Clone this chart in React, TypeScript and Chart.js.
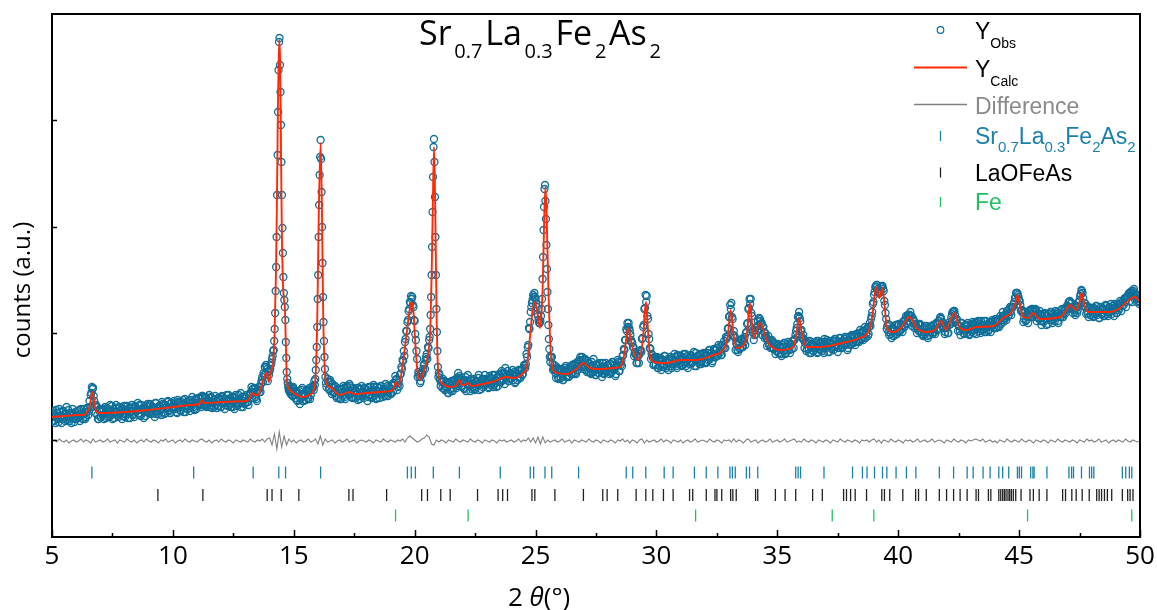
import React, { useEffect, useRef } from "react";
import { Chart, registerables } from "chart.js";

Chart.register(...registerables);

const AXIS_FONT = "'Open Sans', 'Noto Sans', sans-serif";
const LEG_FONT = "'Liberation Sans', Arial, sans-serif";

const OBS_COLOR = "#0f6f99";
const CALC_COLOR = "#ff2a05";
const DIFF_COLOR = "#808080";
const PH1_COLOR = "#1c80ab";
const PH2_COLOR = "#222222";
const PH3_COLOR = "#22c065";

// ---------- observed intensity (a.u.), segments: [start 2θ, step, values] ----------
const obsA = [
  116,126,122,114,124,118,128,120,114,126,122,116,130,120,118,124,114,128,122,118,
  118,126,120,116,128,122,118,125,120,129,122,136,142,150,149,136,124,130,118,126,
  120,128,122,118,130,124,120,126,132,122,118,128,124,132,122,120,130,126,118,128,
  123,131,127,119,129,125,132,122,120,130,126,134,124,122,132,127,119,129,125,133,
  125,133,123,130,128,120,134,126,123,131,127,135,125,123,132,128,136,126,124,134,
  128,136,130,125,137,131,127,135,133,125,138,131,128,136,126,134,140,130,127,137,
  131,139,133,139,141,140,132,140,130,136,142,132,139,134,130,141,136,131,139,137,
  130,140,134,128,138,136,142,132,130,140,136,128,142,134,132,138,144,134,130,140,
  134,142,135,142,142,150,148,139,148,138,146,150,150,154,160,164,170,172,168,165,
  166,172,178,186,
];
const obsA2 = [
  124,116,122,127,119,115,125,121,118,126,120,123,117,127,116,122,124,119,115,125,
  122,119,127,121,124,118,128,118,125,128,126,130,144,148,141,132,132,122,118,128,
  120,126,128,123,119,129,128,120,126,131,123,119,129,125,122,130,124,127,121,131,
  120,126,131,123,119,129,126,123,131,125,128,122,132,121,127,129,125,121,131,130,
  124,132,126,130,124,134,123,129,131,126,122,133,132,124,130,135,127,124,134,130,
  131,133,128,124,135,134,126,132,137,129,125,135,131,129,137,131,134,128,138,128,
  134,139,132,130,141,135,131,139,133,136,130,140,129,135,137,132,129,139,138,130,
  141,135,138,132,142,131,137,139,134,130,140,139,131,137,142,134,130,140,136,133,
  139,135,132,143,145,139,145,149,140,136,147,145,145,157,155,162,163,170,156,162,
  168,174,181,
];
const obsB = [
  187,196,208,224,246,270,300,342,382,425,467,495,499,472,445,412,375,342,309,284,
  260,244,237,230,217,195,179,165,158,154,150,147,151,145,148,143,146,
];
const obsC = [150,141,148,139,145,136,144,133,141,149,136,143,137,146,138,149,142,148,150,156];
const obsC2 = [142,150,142,146,137,143,146,138,147,136,143,141,147,139,146,138,147,151,147];
const obsD = [
  152,158,167,177,190,210,238,262,300,332,362,380,397,378,345,310,274,240,215,196,
  180,168,160,154,150,
];
const obsE = [
  158,148,157,146,153,144,151,141,148,139,148,138,
  145,151,140,148,151,143,153,146,140,149,139,147,143,137,149,141,151,143,139,149,
  144,136,150,142,146,140,152,144,138,150,145,139,151,143,147,141,153,145,141,150,
  144,152,145,154,161,158,150,157,163,170,177,186,195,206,215,226,235,241,240,230,
  216,197,178,165,160,156,164,168,173,177,183,190,197,
];
const obsE2 = [
  155,147,155,143,149,145,150,139,147,144,138,148,
  141,149,138,146,149,142,151,143,139,146,145,139,149,141,138,148,145,141,149,143,
  147,140,143,150,139,147,150,142,139,146,149,143,151,140,145,148,141,151,145,148,
  143,152,154,152,157,147,154,151,163,168,176,181,198,206,217,228,234,238,232,217,
  203,186,160,163,154,164,163,172,168,180,178,189,
];
const obsF = [200,208,222,240,262,290,325,360,390,398,375,340,300,262,228,205,186,170,160];
const obsG = [
  164,157,155,149,156,147,155,150,144,154,146,156,149,157,153,159,164,161,157,150,
  156,148,160,154,162,152,146,156,150,158,148,156,152,162,154,148,158,152,162,154,
  157,149,161,152,158,150,162,154,159,151,163,155,166,158,164,169,161,166,156,164,
  159,167,161,154,164,157,167,160,167,162,168,171,173,180,192,208,225,234,242,244,
  238,230,221,214,216,228,
];
const obsG2 = [
  162,151,156,158,148,150,155,144,153,148,156,146,152,156,149,156,151,159,151,155,
  149,157,146,154,156,151,158,148,153,147,155,150,159,147,155,157,150,158,152,154,
  157,150,159,154,162,152,157,150,160,162,155,155,164,157,153,163,161,156,163,158,
  163,157,165,155,163,160,167,159,167,163,172,169,183,190,209,215,230,237,240,240,
  233,223,217,214,221,
];
const obsH = [238,258,280,307,330,348,352,336,318,292,268,245,228,212,198,188,180,175];
const obsI = [
  180,173,168,168,159,168,158,
  168,159,167,157,165,171,161,168,161,171,163,168,173,164,173,167,176,180,170,177,
  170,178,167,176,165,173,163,172,178,166,162,172,164,174,168,160,170,164,174,166,
  172,163,173,165,175,167,161,171,177,166,174,176,181,188,197,208,214,214,206,197,
  194,190,184,182,174,181,183,187,198,210,228,242,241,218,198,188,183,179,173,179,
  177,169,179,171,167,177,173,181,169,175,167,177,171,179,173,183,175,169,181,177,
  181,171,179,173,183,175,169,179,173,181,175,185,177,171,181,175,183,173,179,184,
  181,174,184,177,187,180,174,183,187,180,189,183,186,191,182,192,196,189,198,208,
  220,232,234,218,206,199,194,187,196,188,197,190,197,200,204,213,228,238,238,221,
  207,202,209,210,216,219,216,214,210,205,204,199,197,192,197,190,195,188,193,186,
  192,184,191,183,192,186,194,184,190,195,187,192,188,196,197,202,209,220,225,216,
  207,198,197,194,186,194,188,196,184,192,186,194,190,184,196,188,194,186,192,198,
  189,197,191,185,194,188,196,190,198,191,185,195,199,190,196,192,200,193,187,197,
  200,193,201,194,202,195,203,196,204,197,204,197,206,199,208,201,210,211,221,233,
  242,250,252,248,244,245,250,251,246,232,218,211,205,212,203,209,201,207,212,203,
  212,205,213,208,215,210,218,214,222,222,225,221,218,216,213,210,209,206,213,205,
  208,202,211,205,201,209,202,210,204,212,205,213,208,213,216,220,214,211,209,205,
  211,204,212,213,220,225,226,222,217,213,211,206,214,208,204,211,207,212,208,202,
  212,205,213,207,215,208,216,210,204,212,208,216,209,205,213,207,215,211,217,209,
  216,209,216,211,218,213,220,215,222,219,226,221,228,225,230,230,235,239,244,242,
  237,232,227,224,218,225,217,222,220,227,223,228,227,222,227,220,219,226,216,222,
  216,224,218,222,213,219,225,217,223,218,226,220,216,224,220,227,220,223,227,229,
  231,235,236,234,229,227,225,230,224,231,237,243,246,239,234,230,226,223,229,222,
  227,221,229,223,231,225,219,227,223,229,221,227,231,223,229,225,233,226,229,233,
  229,224,232,229,234,231,236,238,235,240,241,244,241,246,244,248,242,241,238,236,
  235,
];
const obsI2 = [
  180,167,172,164,170,160,166,
  160,168,157,165,169,160,165,160,169,163,172,163,171,163,175,171,177,171,180,168,
  178,170,165,174,170,164,175,165,170,162,171,173,164,169,166,174,163,170,165,172,
  166,173,164,175,168,172,163,171,175,166,172,171,182,187,197,206,210,209,202,195,
  190,181,185,174,181,174,186,185,199,212,229,235,221,203,189,178,182,172,180,172,
  180,169,177,179,172,170,181,176,171,178,174,180,169,177,173,180,171,182,173,178,
  172,180,183,175,171,181,178,173,182,174,179,171,184,177,181,173,182,176,183,174,
  183,175,181,187,178,184,176,188,182,187,181,192,184,182,192,190,189,200,200,209,
  221,228,220,202,201,187,192,185,194,189,198,190,195,192,205,214,229,233,224,205,
  197,207,203,211,207,218,213,202,210,199,201,191,201,193,189,197,189,194,183,191,
  193,184,190,181,190,194,183,190,187,193,184,193,196,189,198,206,213,221,219,206,
  200,202,189,196,188,196,184,191,193,186,192,189,196,185,194,187,191,195,184,193,
  195,185,193,196,189,193,187,198,190,196,189,199,192,189,196,198,192,200,189,196,
  192,202,195,201,192,203,200,195,207,199,206,200,210,203,209,203,214,218,225,235,
  245,250,252,246,244,246,251,248,236,224,208,213,202,207,199,209,206,202,212,205,
  213,206,211,205,216,211,221,213,222,222,221,211,218,209,213,204,213,206,212,203,
  201,209,203,211,199,208,205,211,203,208,203,214,207,216,219,218,210,214,203,209,
  212,204,215,213,223,225,226,215,218,206,211,202,214,207,203,212,204,214,203,209,
  207,215,204,212,203,214,211,206,216,207,212,205,216,210,206,214,205,215,212,209,
  218,210,217,210,221,217,225,217,222,217,226,222,230,222,230,233,239,244,244,240,
  236,226,227,215,225,216,220,214,226,220,228,220,225,228,216,223,218,223,212,220,
  215,223,212,221,223,217,225,214,220,216,223,225,214,222,220,228,220,228,224,231,
  228,235,229,234,224,230,222,230,227,235,241,247,244,231,234,223,231,220,229,222,
  229,220,227,231,222,226,219,230,223,228,221,232,225,221,230,228,223,231,221,230,
  224,233,227,236,226,235,232,239,230,239,243,236,244,235,246,238,243,235,239,233,
];
const obsSegments: [number, number, number[]][] = [
  [5.0, 0.05, obsA],
  [5.025, 0.05, obsA2],
  [14.17, 0.02, obsB],
  [14.9, 0.05, obsC],
  [14.925, 0.05, obsC2],
  [15.87, 0.02, obsD],
  [16.4, 0.05, obsE],
  [16.425, 0.05, obsE2],
  [20.62, 0.02, obsF],
  [21.0, 0.05, obsG],
  [21.025, 0.05, obsG2],
  [25.27, 0.02, obsH],
  [25.65, 0.05, obsI],
  [25.675, 0.05, obsI2],
];

// ---------- calculated profile ----------
const calcX = [
  5.0,5.5,6.0,6.3,6.45,6.55,6.62,6.67,6.72,6.78,6.85,7.0,8.0,9.0,10.0,10.7,11.1,11.2,11.3,11.8,
  12.5,13.05,13.2,13.27,13.4,13.5,13.6,13.75,13.88,13.97,14.08,14.14,14.2,14.26,14.3,14.34,14.37,14.4,14.43,14.46,
  14.5,14.55,14.6,14.63,14.67,14.71,14.76,14.84,15.0,15.38,15.7,15.88,15.97,16.03,16.11,16.17,16.22,16.33,16.5,16.9,
  17.3,17.5,18.0,18.98,19.1,19.23,19.33,19.53,19.67,19.8,19.87,19.95,20.01,20.11,20.22,20.43,20.56,20.65,20.7,20.75,
  20.8,20.85,20.91,20.98,21.12,21.46,21.7,21.85,21.95,22.05,22.22,22.35,22.6,23.2,23.8,24.1,24.35,24.5,24.63,24.77,
  24.87,24.97,25.05,25.18,25.25,25.3,25.36,25.41,25.46,25.53,25.63,25.8,26.29,26.7,26.97,27.25,27.66,28.2,28.49,28.65,
  28.75,28.83,28.92,29.0,29.25,29.45,29.52,29.57,29.63,29.72,29.9,30.42,30.97,31.66,32.35,32.76,32.95,33.07,33.2,33.32,
  33.66,33.75,33.87,33.95,34.03,34.28,34.62,35.1,35.66,35.8,35.89,36.0,36.21,36.76,37.31,37.86,38.4,38.83,38.95,39.08,
  39.22,39.35,39.45,39.52,39.8,40.14,40.46,40.76,41.17,41.52,41.77,41.97,42.32,42.55,42.83,43.24,43.93,44.34,44.69,44.85,
  44.93,45.05,45.17,45.38,45.56,45.86,46.69,46.96,47.1,47.38,47.5,47.58,47.7,47.86,48.75,49.17,49.44,49.79,50.0,
];
const calcY = [
  120,121,122,122,125,130,140,145,140,130,125,124,125,127,130,132,133,137,134,134.5,
  135.5,136,140,144,142,142,146,158,164,155,168,175,200,260,330,420,470,497,480,420,
  317,255,236,230,195,160,150,147,144,140,143,154,217,317,394,317,217,155,150,142,
  145,143,144,146,147,155,151,177,204,228,235,225,200,167,157,170,184,210,260,330,
  390,330,217,164,154,150,151,157,152,152,154,151,152,155,160,159,161,164,169,200,
  225,235,228,209,225,255,320,350,320,250,184,165,163,168,174,169,168,169,170,180,
  198,209,200,190,177,200,225,235,215,184,175,174,177,177,182,187,200,227,200,189,
  194,205,234,215,199,214,194,187,190,205,219,205,190,190,192,195,199,209,225,250,
  239,249,228,210,205,210,220,209,205,207,216,207,224,209,207,210,211,219,225,234,
  242,230,220,219,224,218,220,227,232,227,235,244,232,225,225,229,235,240,235,
];

// ---------- difference (Yobs - Ycalc), 2θ from 5.0 in steps of 0.1 ----------
const diffStart = 5.0;
const diffStep = 0.1;
const diffVals = [
  0,1,-1,2,0,-1,1,-2,0,1, -1,0,2,-1,1,0,-2,2,-1,0, 1,-1,0,2,-1,0,1,-2,1,0,
  -1,2,0,-1,1,-2,0,1,-1,2, 0,-1,1,0,-2,1,0,2,-1,0, 1,-2,0,1,-1,2,0,-1,1,0,
  -1,1,2,0,-1,1,-2,0,1,-1, 2,0,-1,1,0,-2,1,0,-1,1, 0,-1,2,0,-1,1,0,2,-1,2,
  3,-4,7,-8,9,-6,5,-4,2,-1, 1,-2,0,1,-1,0,2,-1,0,2, -3,5,-4,2,-1,0,1,-2,0,1,
  -1,0,2,-1,0,1,-2,0,1,0, -1,1,0,-2,1,0,-1,2,0,-1, 1,0,-1,1,0,2,-1,3,5,3,
  1,-1,0,2,3,6,4,-3,-4,1, -1,1,0,-2,1,0,-1,2,0,-1, 1,0,-1,2,0,-1,1,0,-2,1,
  0,-1,1,0,-2,1,0,1,-1,0, 1,-1,0,2,-1,1,0,3,-1,3, -2,4,-3,4,-2,1,-1,0,1,-1,
  0,2,-1,0,1,-2,1,0,-1,1, 0,-1,2,0,-1,1,0,-2,1,0, -1,1,0,-2,1,0,2,-1,1,-2,
  1,0,-2,1,2,-2,1,-1,0,1, -1,0,2,-1,1,0,-2,1,0,-1, 1,-2,0,1,-1,0,2,-1,0,1,
  0,-1,2,0,-1,1,0,-2,1,0, 1,-1,2,-1,1,0,-2,1,2,-1, 0,1,-2,0,1,-1,0,2,-1,0,
  1,-1,0,2,-1,0,1,2,-1,0, -1,2,0,-1,1,0,-2,1,0,-1, 1,0,-2,1,0,-1,2,0,-1,1,
  0,-1,1,0,-2,1,0,1,-1,1, 2,-1,1,-2,1,0,-1,2,0,-1, 1,0,-2,1,0,1,-1,0,2,-1,
  0,1,-1,0,2,-1,0,1,0,-2, 1,0,-1,2,0,-1,1,0,-2,1, 0,1,2,1,0,2,-1,0,1,-1,
  0,-2,1,0,-1,2,0,-1,1,0, -1,2,0,-1,1,0,-2,1,0,-1, 1,0,-2,1,0,-1,2,0,-1,1,
  0,-1,1,0,-2,1,0,-1,2,0, 1,-1,0,2,-1,0,1,-2,0,1, -1,1,0,-1,2,0,-1,1,0,-1,
  0,
];

// ---------- Bragg reflection positions (2θ) ----------
const reflSrLaFeAs = [
  6.65,10.86,13.32,14.38,14.66,16.11,19.7,19.86,20.03,20.77,21.85,23.54,24.78,24.92,25.39,25.67,26.78,
  28.75,29.02,29.56,30.32,30.69,31.57,32.06,32.54,33.04,33.14,33.26,33.72,33.85,34.19,35.76,35.86,35.96,
  36.93,38.11,38.52,38.71,39.02,39.35,39.53,39.91,40.34,40.73,41.7,42.29,42.85,43.1,43.51,43.8,44.16,
  44.32,44.57,44.93,45.01,45.1,45.48,45.57,45.62,46.15,47.06,47.17,47.25,47.58,47.91,48.0,48.09,49.27,
  49.41,49.56,49.66,
];
const reflLaOFeAs = [
  9.38,11.24,13.9,14.1,14.48,15.21,17.28,17.45,18.84,20.29,20.53,21.08,21.47,22.6,23.45,23.64,23.84,
  24.85,24.97,25.8,26.98,27.78,27.96,28.4,29.16,29.56,29.85,30.29,30.69,31.37,31.5,32.06,32.42,32.5,
  32.7,33.07,33.16,33.3,34.1,34.19,34.92,35.32,35.76,36.46,36.86,37.74,37.86,38.03,38.22,38.69,39.32,
  39.43,39.65,40.19,40.72,40.84,41.16,41.7,42.0,42.29,42.56,42.85,43.22,43.32,43.73,43.83,44.16,44.24,
  44.32,44.39,44.46,44.54,44.61,44.68,44.76,44.86,45.08,45.45,45.59,45.83,46.15,46.8,46.92,47.18,47.36,
  47.61,47.9,48.21,48.31,48.41,48.53,48.65,48.83,49.27,49.49,49.59,49.71,
];
const reflFe = [19.21, 22.21, 31.62, 37.27, 38.99, 45.35, 49.66];

const xMajorTicks = [5, 10, 15, 20, 25, 30, 35, 40, 45, 50];
const xMinorTicks = [7.5, 12.5, 17.5, 22.5, 27.5, 32.5, 37.5, 42.5, 47.5];
const yTickValues = [97, 204, 310, 417];

// vertical levels (a.u.) used for the offset curves / reflection rows
const DIFF_OFFSET = 96;
const ROW_PH1 = 64.5;
const ROW_PH2 = 42;
const ROW_PH3 = 21.5;

type Part = [string, "n" | "s" | "i"];

function partFont(k: string, family: string, size: number, subSize: number) {
  if (k === "s") return `${subSize}px ${family}`;
  return `${k === "i" ? "italic " : ""}${size}px ${family}`;
}

function drawRich(
  ctx: CanvasRenderingContext2D,
  x: number,
  y: number,
  parts: Part[],
  family: string,
  size: number,
  subSize: number,
  subDy: number,
  color: string,
  gap = 0
) {
  ctx.save();
  ctx.fillStyle = color;
  ctx.textBaseline = "alphabetic";
  ctx.textAlign = "left";
  let cx = x;
  parts.forEach(([t, k], i) => {
    ctx.font = partFont(k, family, size, subSize);
    ctx.fillText(t, cx, k === "s" ? y + subDy : y);
    cx += ctx.measureText(t).width + (i < parts.length - 1 ? gap : 0);
  });
  ctx.restore();
  return cx - x;
}

function richWidth(ctx: CanvasRenderingContext2D, parts: Part[], family: string, size: number, subSize: number) {
  ctx.save();
  let w = 0;
  for (const [t, k] of parts) {
    ctx.font = partFont(k, family, size, subSize);
    w += ctx.measureText(t).width;
  }
  ctx.restore();
  return w;
}

const TITLE_PARTS: Part[] = [
  ["Sr", "n"], ["0.7", "s"], ["La", "n"], ["0.3", "s"], ["Fe", "n"], ["2", "s"], ["As", "n"], ["2", "s"],
];

const overlayPlugin = {
  id: "xrdOverlay",
  afterDraw(chart: any) {
    const ctx: CanvasRenderingContext2D = chart.ctx;
    const { left, right, top, bottom } = chart.chartArea;
    const xs = chart.scales.x;
    const ys = chart.scales.y;
    ctx.save();
    // frame (top and right)
    ctx.strokeStyle = "#000";
    ctx.lineWidth = 2;
    ctx.beginPath();
    ctx.moveTo(left - 1, top);
    ctx.lineTo(right, top);
    ctx.lineTo(right, bottom + 1);
    ctx.stroke();
    // inward ticks
    ctx.lineWidth = 1.5;
    ctx.beginPath();
    for (const t of xMajorTicks) {
      const px = Math.round(xs.getPixelForValue(t)) + 0.5;
      ctx.moveTo(px, bottom);
      ctx.lineTo(px, bottom - 7);
    }
    for (const t of xMinorTicks) {
      const px = Math.round(xs.getPixelForValue(t)) + 0.5;
      ctx.moveTo(px, bottom);
      ctx.lineTo(px, bottom - 4);
    }
    for (const t of yTickValues) {
      const py = Math.round(ys.getPixelForValue(t)) + 0.5;
      ctx.moveTo(left, py);
      ctx.lineTo(left + 5, py);
    }
    ctx.stroke();
    ctx.restore();

    // title (fitted to the reference width)
    const tw = richWidth(ctx, TITLE_PARTS, AXIS_FONT, 34, 20);
    const tgap = Math.max(0, (242 - tw) / (TITLE_PARTS.length - 1));
    drawRich(ctx, 419, 45, TITLE_PARTS, AXIS_FONT, 34, 20, 13, "#000", tgap);

    // axis titles
    ctx.save();
    ctx.translate(23, 290);
    ctx.rotate(-Math.PI / 2);
    ctx.font = `24px ${AXIS_FONT}`;
    ctx.fillStyle = "#000";
    ctx.textAlign = "center";
    ctx.textBaseline = "middle";
    ctx.fillText("counts (a.u.)", 0, 0);
    ctx.restore();

    const xt: Part[] = [["2 ", "n"], ["θ", "i"], ["(°)", "n"]];
    drawRich(ctx, 508, 606, xt, AXIS_FONT, 26, 26, 0, "#000");

    // legend
    const lx = 975;
    ctx.save();
    ctx.strokeStyle = OBS_COLOR;
    ctx.lineWidth = 1.2;
    ctx.beginPath();
    ctx.arc(940.5, 30, 3.3, 0, Math.PI * 2);
    ctx.stroke();
    ctx.strokeStyle = CALC_COLOR;
    ctx.lineWidth = 2;
    ctx.beginPath();
    ctx.moveTo(914, 67.5);
    ctx.lineTo(967, 67.5);
    ctx.stroke();
    ctx.strokeStyle = DIFF_COLOR;
    ctx.lineWidth = 1.3;
    ctx.beginPath();
    ctx.moveTo(914, 104.5);
    ctx.lineTo(967, 104.5);
    ctx.stroke();
    const legTicks: [number, string][] = [[136, PH1_COLOR], [172.5, PH2_COLOR], [202, PH3_COLOR]];
    ctx.lineWidth = 1.3;
    for (const [cy, col] of legTicks) {
      ctx.strokeStyle = col;
      ctx.beginPath();
      ctx.moveTo(940.5, cy - 5);
      ctx.lineTo(940.5, cy + 5);
      ctx.stroke();
    }
    ctx.restore();
    drawRich(ctx, lx, 38.5, [["Y", "n"], ["Obs", "s"]], LEG_FONT, 23, 14, 9, "#000");
    drawRich(ctx, lx, 77, [["Y", "n"], ["Calc", "s"]], LEG_FONT, 23, 14, 9, "#000");
    drawRich(ctx, lx, 113.5, [["Difference", "n"]], LEG_FONT, 23, 14, 9, "#8a8a8a");
    drawRich(ctx, lx, 143.5, TITLE_PARTS, LEG_FONT, 23, 15, 8, PH1_COLOR);
    drawRich(ctx, lx, 181, [["LaOFeAs", "n"]], LEG_FONT, 23, 14, 8, "#000");
    drawRich(ctx, lx, 210, [["Fe", "n"]], LEG_FONT, 23, 14, 8, PH3_COLOR);
  },
};

export default function App() {
  const canvasRef = useRef<HTMLCanvasElement | null>(null);

  useEffect(() => {
    document.body.style.margin = "0";
    const canvas = canvasRef.current;
    if (!canvas) return;

    const obsPts: { x: number; y: number }[] = [];
    for (const [start, step, vals] of obsSegments) {
      vals.forEach((v, i) => obsPts.push({ x: +(start + i * step).toFixed(3), y: v }));
    }
    obsPts.sort((a, b) => a.x - b.x);
    const calcPts = calcX.map((x, i) => ({ x, y: calcY[i] }));
    const diffPts = diffVals.map((d, i) => ({ x: +(diffStart + i * diffStep).toFixed(2), y: DIFF_OFFSET + d }));
    const row = (arr: number[], y: number) => arr.map((x) => ({ x, y }));

    const chart = new Chart(canvas, {
      type: "scatter",
      data: {
        datasets: [
          {
            label: "YCalc",
            data: calcPts,
            showLine: true,
            borderColor: CALC_COLOR,
            borderWidth: 1.9,
            pointRadius: 0,
            cubicInterpolationMode: "monotone",
            order: 0,
          } as any,
          {
            label: "YObs",
            data: obsPts,
            showLine: false,
            pointStyle: "circle",
            pointRadius: 3.5,
            pointBorderWidth: 1.3,
            pointBorderColor: OBS_COLOR,
            pointBackgroundColor: "rgba(0,0,0,0)",
            order: 1,
          },
          {
            label: "Difference",
            data: diffPts,
            showLine: true,
            borderColor: DIFF_COLOR,
            borderWidth: 1.1,
            pointRadius: 0,
            order: 2,
          },
          {
            label: "Sr0.7La0.3Fe2As2",
            data: row(reflSrLaFeAs, ROW_PH1),
            pointStyle: "line",
            pointRotation: 90,
            pointRadius: 6,
            pointBorderWidth: 1.3,
            pointBorderColor: PH1_COLOR,
            order: 3,
          },
          {
            label: "LaOFeAs",
            data: row(reflLaOFeAs, ROW_PH2),
            pointStyle: "line",
            pointRotation: 90,
            pointRadius: 6,
            pointBorderWidth: 1.3,
            pointBorderColor: PH2_COLOR,
            order: 3,
          },
          {
            label: "Fe",
            data: row(reflFe, ROW_PH3),
            pointStyle: "line",
            pointRotation: 90,
            pointRadius: 6,
            pointBorderWidth: 1.3,
            pointBorderColor: PH3_COLOR,
            order: 3,
          },
        ],
      },
      options: {
        animation: false,
        responsive: true,
        maintainAspectRatio: false,
        layout: { padding: { top: 14, right: 17, left: 0, bottom: 0 } },
        plugins: {
          legend: { display: false },
          tooltip: { enabled: false },
          title: { display: false },
        },
        events: [],
        scales: {
          x: {
            type: "linear",
            min: 5,
            max: 50,
            grid: { display: false },
            border: { display: true, color: "#000", width: 2 },
            ticks: {
              stepSize: 5,
              autoSkip: false,
              maxRotation: 0,
              padding: -4,
              color: "#000",
              font: { family: AXIS_FONT, size: 26 },
            },
            afterFit: (s: any) => {
              s.height = 73;
            },
          },
          y: {
            type: "linear",
            min: 0,
            max: 523,
            grid: { display: false },
            border: { display: true, color: "#000", width: 2 },
            ticks: { display: false },
            afterFit: (s: any) => {
              s.width = 52;
            },
          },
        },
      } as any,
      plugins: [overlayPlugin],
    });

    return () => chart.destroy();
  }, []);

  return (
    <div style={{ position: "relative", width: "1157px", height: "610px" }}>
      <canvas ref={canvasRef} />
    </div>
  );
}
